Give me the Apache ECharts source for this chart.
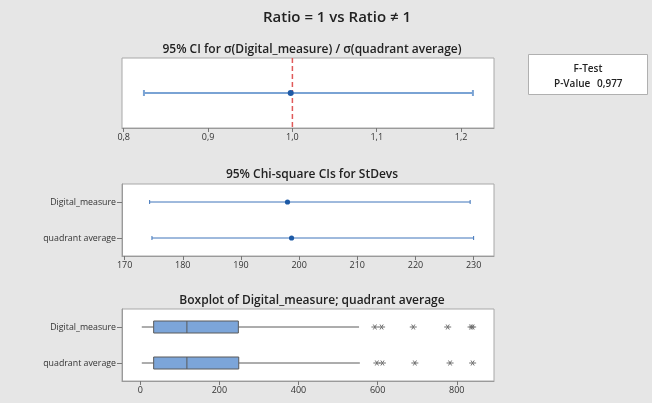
<!DOCTYPE html>
<html>
<head>
<meta charset="utf-8">
<script src="https://cdn.jsdelivr.net/npm/echarts@6/dist/echarts.min.js"></script>
<style>
  html, body { margin: 0; padding: 0; background: #e6e6e6; }
  #chart { width: 652px; height: 403px; }
</style>
</head>
<body>
<div id="chart"></div>
<script>
// Two-variance test summary: ratio CI, per-sample StDev CIs, boxplots

const groups = ['Digital_measure', 'quadrant average'];
const groupRows = [0, 1];

// Ratio of standard deviations: lower, estimate, upper
const ratioCI = [0.824, 0.998, 1.214];
const ratioTicks = [0.8, 0.9, 1.0, 1.1, 1.2];
const ratioHypothesis = 1;

// 95% chi-square CIs for each StDev
const sdLower = [174.3, 174.7];
const sdEstimate = [198.0, 198.7];
const sdUpper = [229.4, 230.0];
const sdTicks = [170, 180, 190, 200, 210, 220, 230];

// Boxplot summaries
const whiskerLow = [4, 4];
const q1 = [34, 34];
const median = [118, 118];
const q3 = [248, 249];
const whiskerHigh = [553, 555];
const outliersDigital = [593, 610, 690, 777, 836, 840];
const outliersQuadrant = [598, 612, 694, 783, 840];
const boxTicks = [0, 200, 400, 600, 800];

const pValueText = '0,977';

const FONT = '"Open Sans", "Noto Sans", sans-serif';
const comma = v => v.toFixed(1).replace('.', ',');

function ciRenderer(opts) {
  return function (params, api) {
    const row = api.value(3);
    const lo = api.coord([api.value(0), row]);
    const mid = api.coord([api.value(1), row]);
    const hi = api.coord([api.value(2), row]);
    const ls = { stroke: opts.color, lineWidth: opts.width };
    return {
      type: 'group',
      children: [
        { type: 'line', shape: { x1: lo[0], y1: lo[1], x2: hi[0], y2: hi[1] }, style: ls },
        { type: 'line', shape: { x1: lo[0], y1: lo[1] - opts.cap, x2: lo[0], y2: lo[1] + opts.cap }, style: ls },
        { type: 'line', shape: { x1: hi[0], y1: hi[1] - opts.cap, x2: hi[0], y2: hi[1] + opts.cap }, style: ls },
        { type: 'circle', shape: { cx: mid[0], cy: mid[1], r: opts.dot }, style: { fill: opts.dotColor } }
      ]
    };
  };
}

// vertical dashed reference line spanning the whole plot area
function refLineRenderer(params, api) {
  const x = api.coord([api.value(0), 0])[0];
  const cs = params.coordSys;
  return {
    type: 'line',
    shape: { x1: x, y1: cs.y, x2: x, y2: cs.y + cs.height },
    style: { stroke: '#e05a5a', lineWidth: 1.5, lineDash: [5, 3] }
  };
}

function boxRenderer(params, api) {
  const row = api.value(5);
  const p = i => api.coord([api.value(i), row]);
  const wl = p(0), b1 = p(1), md = p(2), b3 = p(3), wh = p(4);
  const y = wl[1], h = 6;
  const stroke = { stroke: '#5a5a5a', lineWidth: 1 };
  return {
    type: 'group',
    children: [
      { type: 'line', shape: { x1: wl[0], y1: y, x2: b1[0], y2: y }, style: stroke },
      { type: 'line', shape: { x1: b3[0], y1: y, x2: wh[0], y2: y }, style: stroke },
      { type: 'rect', shape: { x: b1[0], y: y - h, width: b3[0] - b1[0], height: 2 * h },
        style: { fill: '#7ca5d9', stroke: '#5a5a5a', lineWidth: 1 } },
      { type: 'line', shape: { x1: md[0], y1: y - h, x2: md[0], y2: y + h }, style: stroke }
    ]
  };
}

function starRenderer(params, api) {
  const c = api.coord([api.value(0), api.value(1)]);
  const s = { stroke: '#707070', lineWidth: 1 };
  const r = 2.5;
  return {
    type: 'group',
    children: [
      { type: 'line', shape: { x1: c[0] - r - 1, y1: c[1], x2: c[0] + r + 1, y2: c[1] }, style: s },
      { type: 'line', shape: { x1: c[0] - 1.6, y1: c[1] - r, x2: c[0] + 1.6, y2: c[1] + r }, style: s },
      { type: 'line', shape: { x1: c[0] + 1.6, y1: c[1] - r, x2: c[0] - 1.6, y2: c[1] + r }, style: s }
    ]
  };
}

const axisLabelStyle = { color: '#333', fontSize: 9, fontFamily: FONT };

function xAxis(grid, min, max, ticks, fmt) {
  return {
    type: 'value', gridIndex: grid, min: min, max: max, splitLine: { show: false },
    axisLine: { show: true, onZero: false, lineStyle: { color: '#9a9a9a' } },
    axisTick: { show: true, length: 4, customValues: ticks, lineStyle: { color: '#777' } },
    axisLabel: Object.assign({ customValues: ticks, margin: 5, formatter: fmt }, axisLabelStyle)
  };
}

function rowAxis(grid, labelled) {
  return {
    type: 'value', gridIndex: grid, min: -0.5, max: labelled ? 1.5 : 0.5, inverse: true,
    splitLine: { show: false },
    axisLine: { show: labelled, onZero: false, lineStyle: { color: '#9a9a9a' } },
    axisTick: { show: labelled, length: 5, customValues: groupRows, lineStyle: { color: '#777' } },
    axisLabel: Object.assign({ show: labelled, customValues: groupRows, margin: 6,
      formatter: v => groups[Math.round(v)] }, axisLabelStyle, { fontSize: 8.8 })
  };
}

const boxText = { fill: '#222', fontSize: 10, fontWeight: 600, fontFamily: FONT, verticalAlign: 'middle' };

const chart = echarts.init(document.getElementById('chart'));

chart.setOption({
  backgroundColor: '#e6e6e6',
  animation: false,
  title: [
    { text: 'Ratio = 1 vs Ratio \u2260 1', left: 332, top: 5, textAlign: 'center',
      textStyle: { fontSize: 15, fontWeight: 600, color: '#222', fontFamily: FONT } },
    { text: '95% CI for \u03c3(Digital_measure) / \u03c3(quadrant average)', left: 307, top: 39, textAlign: 'center',
      textStyle: { fontSize: 12, fontWeight: 600, color: '#222', fontFamily: FONT } },
    { text: '95% Chi-square CIs for StDevs', left: 307, top: 164, textAlign: 'center',
      textStyle: { fontSize: 12, fontWeight: 600, color: '#222', fontFamily: FONT } },
    { text: 'Boxplot of Digital_measure; quadrant average', left: 307, top: 290, textAlign: 'center',
      textStyle: { fontSize: 12, fontWeight: 600, color: '#222', fontFamily: FONT } }
  ],
  graphic: [
    { type: 'rect', shape: { x: 528.5, y: 54.5, width: 119, height: 40 },
      style: { fill: '#fff', stroke: '#b0b0b0', lineWidth: 1 } },
    { type: 'text', x: 588, y: 69, style: Object.assign({ text: 'F-Test', align: 'center' }, boxText) },
    { type: 'text', x: 554, y: 84, style: Object.assign({ text: 'P-Value', align: 'left' }, boxText) },
    { type: 'text', x: 597, y: 84, style: Object.assign({ text: pValueText, align: 'left' }, boxText) }
  ],
  grid: [
    { left: 122, top: 58, width: 372, height: 70, show: true, backgroundColor: '#fff', borderColor: '#a8a8a8', borderWidth: 1 },
    { left: 122, top: 184, width: 372, height: 72, show: true, backgroundColor: '#fff', borderColor: '#a8a8a8', borderWidth: 1 },
    { left: 122, top: 309, width: 372, height: 72, show: true, backgroundColor: '#fff', borderColor: '#a8a8a8', borderWidth: 1 }
  ],
  xAxis: [
    xAxis(0, 0.798, 1.239, ratioTicks, comma),
    xAxis(1, 169.55, 233.5, sdTicks, v => String(v)),
    xAxis(2, -46, 894, boxTicks, v => String(v))
  ],
  yAxis: [rowAxis(0, false), rowAxis(1, true), rowAxis(2, true)],
  series: [
    {
      type: 'custom', xAxisIndex: 0, yAxisIndex: 0,
      data: [[ratioHypothesis, 0]],
      encode: { x: 0, y: 1 },
      renderItem: refLineRenderer,
      z: 3
    },
    {
      type: 'custom', xAxisIndex: 0, yAxisIndex: 0,
      data: [[ratioCI[0], ratioCI[1], ratioCI[2], 0]],
      encode: { x: [0, 1, 2], y: 3 },
      renderItem: ciRenderer({ color: '#7aa3d4', width: 2, cap: 3, dot: 3, dotColor: '#1f5aa6' }),
      z: 4
    },
    {
      type: 'custom', xAxisIndex: 1, yAxisIndex: 1,
      data: groupRows.map(i => [sdLower[i], sdEstimate[i], sdUpper[i], i]),
      encode: { x: [0, 1, 2], y: 3 },
      renderItem: ciRenderer({ color: '#3e74ba', width: 1, cap: 2, dot: 2.6, dotColor: '#1d5aa6' })
    },
    {
      type: 'custom', xAxisIndex: 2, yAxisIndex: 2,
      data: groupRows.map(i => [whiskerLow[i], q1[i], median[i], q3[i], whiskerHigh[i], i]),
      encode: { x: [0, 1, 2, 3, 4], y: 5 },
      renderItem: boxRenderer
    },
    {
      type: 'custom', xAxisIndex: 2, yAxisIndex: 2,
      data: outliersDigital.map(v => [v, 0]).concat(outliersQuadrant.map(v => [v, 1])),
      encode: { x: 0, y: 1 },
      renderItem: starRenderer
    }
  ]
});
</script>
</body>
</html>
